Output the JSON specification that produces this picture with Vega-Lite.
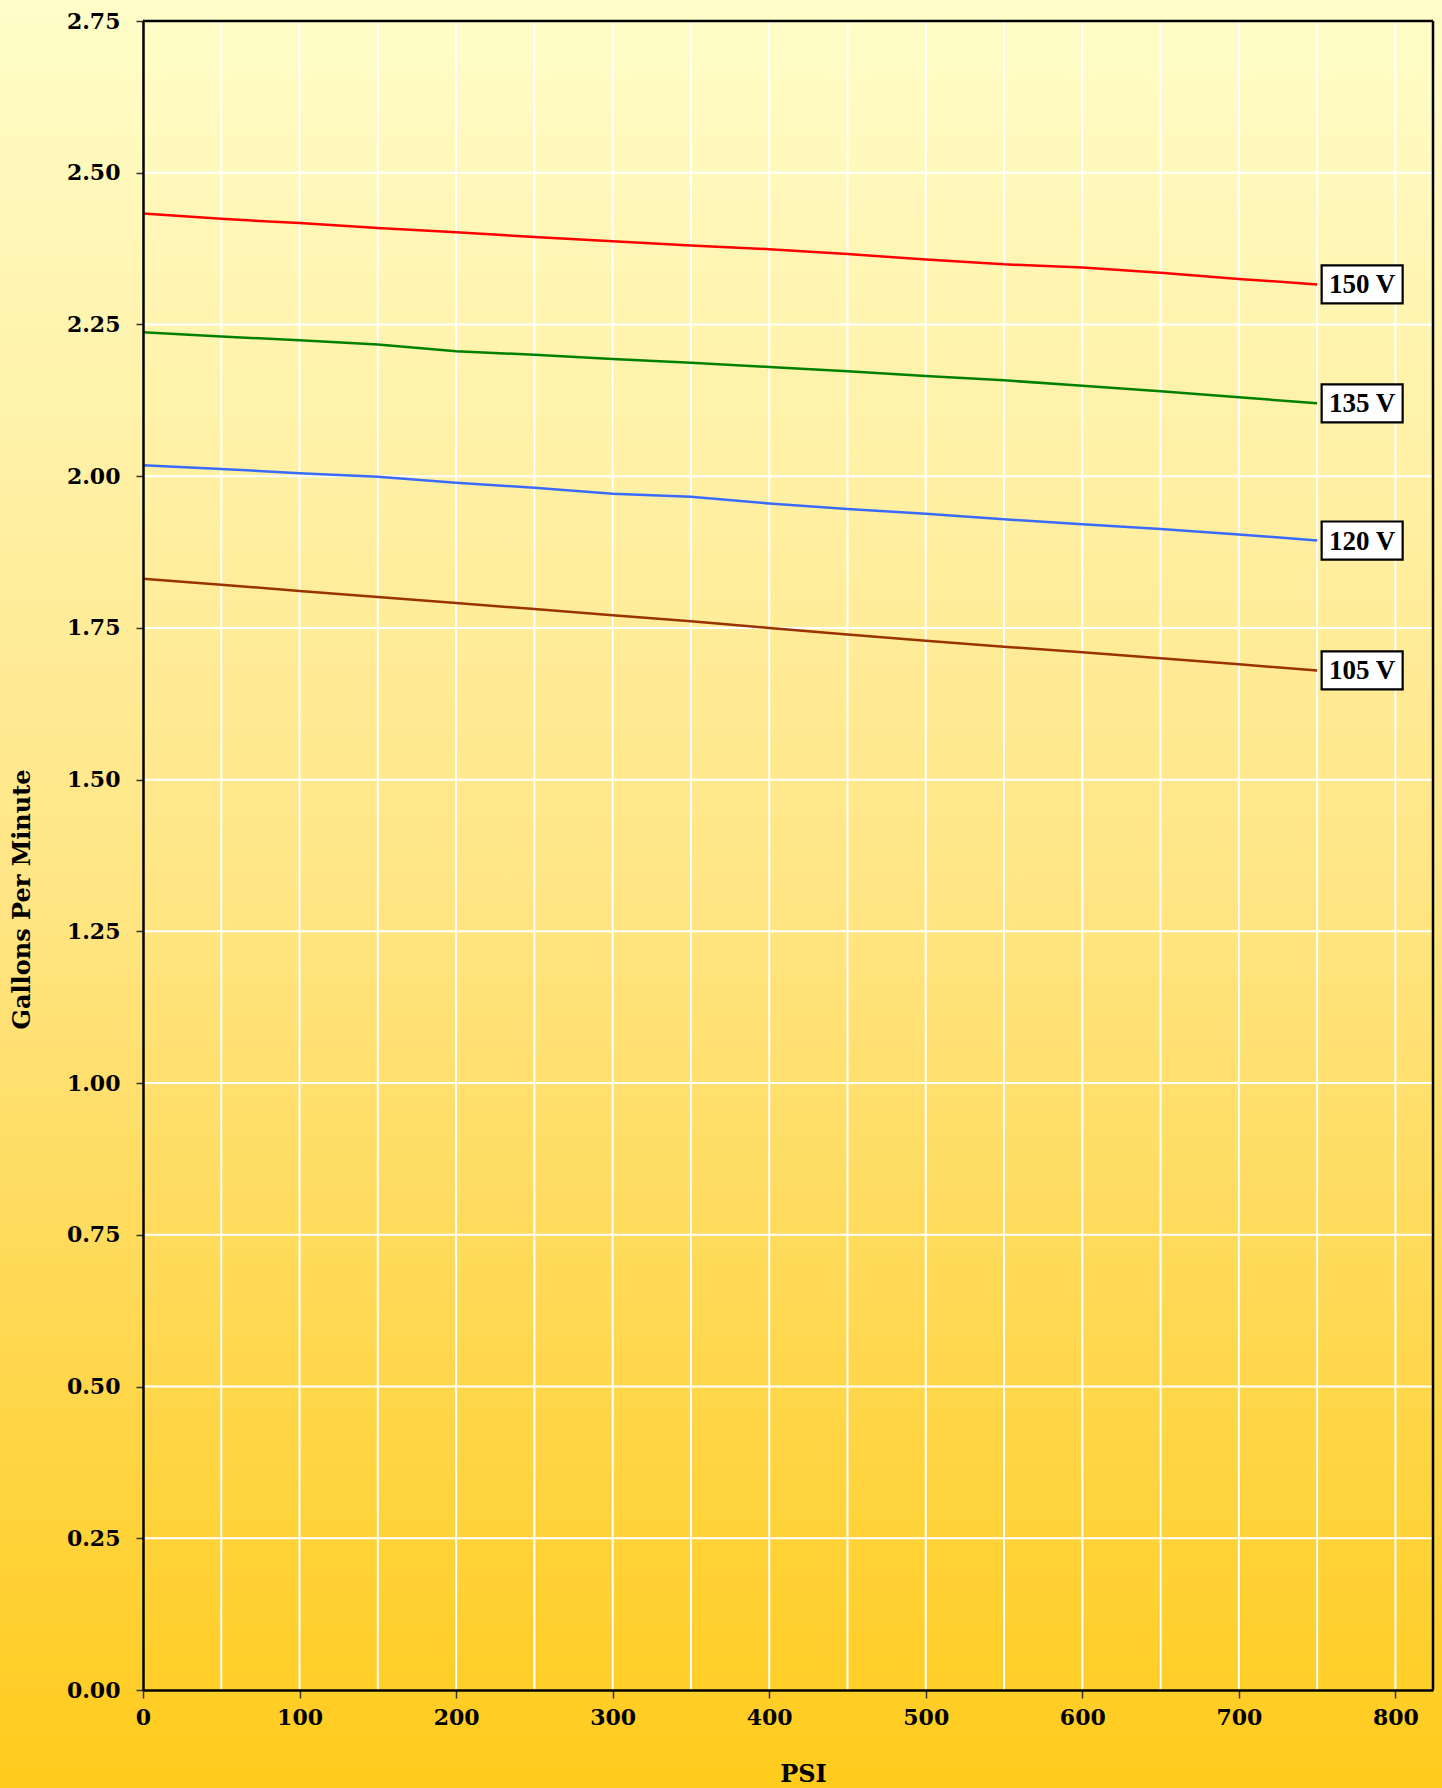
{
  "$schema": "https://vega.github.io/schema/vega-lite/v6.json",
  "autosize": {"type": "none"},
  "width": 1290,
  "height": 1669,
  "padding": {"left": 143, "top": 21, "right": 9, "bottom": 98},
  "background": "#FFE27A",
  "config": {"view": {"stroke": null}},
  "datasets": {
    "flow": [
      {"psi": 0, "gpm": 2.433, "voltage": "150 V"},
      {"psi": 50, "gpm": 2.424, "voltage": "150 V"},
      {"psi": 100, "gpm": 2.417, "voltage": "150 V"},
      {"psi": 150, "gpm": 2.409, "voltage": "150 V"},
      {"psi": 200, "gpm": 2.402, "voltage": "150 V"},
      {"psi": 250, "gpm": 2.394, "voltage": "150 V"},
      {"psi": 300, "gpm": 2.387, "voltage": "150 V"},
      {"psi": 350, "gpm": 2.380, "voltage": "150 V"},
      {"psi": 400, "gpm": 2.374, "voltage": "150 V"},
      {"psi": 450, "gpm": 2.366, "voltage": "150 V"},
      {"psi": 500, "gpm": 2.357, "voltage": "150 V"},
      {"psi": 550, "gpm": 2.349, "voltage": "150 V"},
      {"psi": 600, "gpm": 2.344, "voltage": "150 V"},
      {"psi": 650, "gpm": 2.335, "voltage": "150 V"},
      {"psi": 700, "gpm": 2.325, "voltage": "150 V"},
      {"psi": 750, "gpm": 2.316, "voltage": "150 V"},
      {"psi": 0, "gpm": 2.237, "voltage": "135 V"},
      {"psi": 50, "gpm": 2.230, "voltage": "135 V"},
      {"psi": 100, "gpm": 2.224, "voltage": "135 V"},
      {"psi": 150, "gpm": 2.217, "voltage": "135 V"},
      {"psi": 200, "gpm": 2.206, "voltage": "135 V"},
      {"psi": 250, "gpm": 2.200, "voltage": "135 V"},
      {"psi": 300, "gpm": 2.193, "voltage": "135 V"},
      {"psi": 350, "gpm": 2.187, "voltage": "135 V"},
      {"psi": 400, "gpm": 2.180, "voltage": "135 V"},
      {"psi": 450, "gpm": 2.173, "voltage": "135 V"},
      {"psi": 500, "gpm": 2.165, "voltage": "135 V"},
      {"psi": 550, "gpm": 2.158, "voltage": "135 V"},
      {"psi": 600, "gpm": 2.149, "voltage": "135 V"},
      {"psi": 650, "gpm": 2.140, "voltage": "135 V"},
      {"psi": 700, "gpm": 2.130, "voltage": "135 V"},
      {"psi": 750, "gpm": 2.120, "voltage": "135 V"},
      {"psi": 0, "gpm": 2.018, "voltage": "120 V"},
      {"psi": 50, "gpm": 2.012, "voltage": "120 V"},
      {"psi": 100, "gpm": 2.005, "voltage": "120 V"},
      {"psi": 150, "gpm": 1.999, "voltage": "120 V"},
      {"psi": 200, "gpm": 1.989, "voltage": "120 V"},
      {"psi": 250, "gpm": 1.981, "voltage": "120 V"},
      {"psi": 300, "gpm": 1.971, "voltage": "120 V"},
      {"psi": 350, "gpm": 1.966, "voltage": "120 V"},
      {"psi": 400, "gpm": 1.955, "voltage": "120 V"},
      {"psi": 450, "gpm": 1.946, "voltage": "120 V"},
      {"psi": 500, "gpm": 1.938, "voltage": "120 V"},
      {"psi": 550, "gpm": 1.929, "voltage": "120 V"},
      {"psi": 600, "gpm": 1.921, "voltage": "120 V"},
      {"psi": 650, "gpm": 1.913, "voltage": "120 V"},
      {"psi": 700, "gpm": 1.904, "voltage": "120 V"},
      {"psi": 750, "gpm": 1.894, "voltage": "120 V"},
      {"psi": 0, "gpm": 1.831, "voltage": "105 V"},
      {"psi": 50, "gpm": 1.821, "voltage": "105 V"},
      {"psi": 100, "gpm": 1.811, "voltage": "105 V"},
      {"psi": 150, "gpm": 1.801, "voltage": "105 V"},
      {"psi": 200, "gpm": 1.791, "voltage": "105 V"},
      {"psi": 250, "gpm": 1.781, "voltage": "105 V"},
      {"psi": 300, "gpm": 1.771, "voltage": "105 V"},
      {"psi": 350, "gpm": 1.761, "voltage": "105 V"},
      {"psi": 400, "gpm": 1.750, "voltage": "105 V"},
      {"psi": 450, "gpm": 1.739, "voltage": "105 V"},
      {"psi": 500, "gpm": 1.729, "voltage": "105 V"},
      {"psi": 550, "gpm": 1.719, "voltage": "105 V"},
      {"psi": 600, "gpm": 1.710, "voltage": "105 V"},
      {"psi": 650, "gpm": 1.700, "voltage": "105 V"},
      {"psi": 700, "gpm": 1.690, "voltage": "105 V"},
      {"psi": 750, "gpm": 1.680, "voltage": "105 V"}
    ],
    "xgrid": [
      {"psi": 50}, {"psi": 100}, {"psi": 150}, {"psi": 200}, {"psi": 250}, {"psi": 300},
      {"psi": 350}, {"psi": 400}, {"psi": 450}, {"psi": 500}, {"psi": 550}, {"psi": 600},
      {"psi": 650}, {"psi": 700}, {"psi": 750}, {"psi": 800}
    ],
    "ygrid": [
      {"gpm": 0.25}, {"gpm": 0.5}, {"gpm": 0.75}, {"gpm": 1.0}, {"gpm": 1.25},
      {"gpm": 1.5}, {"gpm": 1.75}, {"gpm": 2.0}, {"gpm": 2.25}, {"gpm": 2.5}
    ]
  },
  "layer": [
    {
      "data": {"values": [{}]},
      "mark": {
        "type": "rect",
        "clip": false,
        "fill": {
          "gradient": "linear", "x1": 0, "y1": 0, "x2": 0, "y2": 1,
          "stops": [
            {"offset": 0, "color": "#FFFDC9"},
            {"offset": 0.5, "color": "#FFE584"},
            {"offset": 1, "color": "#FFCB1C"}
          ]
        }
      },
      "encoding": {
        "x": {"datum": -95, "type": "quantitative", "scale": {"domain": [0, 824], "nice": false, "zero": false}},
        "x2": {"datum": 880},
        "y": {"datum": -0.165, "type": "quantitative", "scale": {"domain": [0, 2.75], "nice": false}},
        "y2": {"datum": 2.79}
      }
    },
    {
      "data": {"name": "xgrid"},
      "mark": {"type": "rule", "color": "white", "strokeWidth": 2},
      "encoding": {
        "x": {"field": "psi", "type": "quantitative", "scale": {"domain": [0, 824], "nice": false, "zero": false}}
      }
    },
    {
      "data": {"name": "ygrid"},
      "mark": {"type": "rule", "color": "white", "strokeWidth": 2},
      "encoding": {
        "y": {"field": "gpm", "type": "quantitative", "scale": {"domain": [0, 2.75], "nice": false}}
      }
    },
    {
      "data": {"name": "flow"},
      "mark": {"type": "line", "strokeWidth": 2.5},
      "encoding": {
        "x": {
          "field": "psi", "type": "quantitative",
          "scale": {"domain": [0, 824], "nice": false, "zero": false},
          "axis": {
            "title": "PSI",
            "values": [0, 100, 200, 300, 400, 500, 600, 700, 800],
            "format": "d",
            "grid": false,
            "zindex": 1,
            "domainColor": "black", "domainWidth": 2.5,
            "tickColor": "#333", "tickSize": 8, "tickWidth": 1.5,
            "labelFont": "DejaVu Serif", "labelFontWeight": "bold", "labelFontSize": 22, "labelColor": "black",
            "labelPadding": 9, "labelFlush": false, "labelOverlap": false,
            "titleFont": "DejaVu Serif", "titleFontWeight": "bold", "titleFontSize": 24, "titleColor": "black",
            "titleX": 660, "titleY": 84, "titleAlign": "center", "titleBaseline": "middle"
          }
        },
        "y": {
          "field": "gpm", "type": "quantitative",
          "scale": {"domain": [0, 2.75], "nice": false},
          "axis": {
            "title": "Gallons Per Minute",
            "values": [0, 0.25, 0.5, 0.75, 1.0, 1.25, 1.5, 1.75, 2.0, 2.25, 2.5, 2.75],
            "format": ".2f",
            "grid": false,
            "zindex": 1,
            "domainColor": "black", "domainWidth": 2.5,
            "tickColor": "#333", "tickSize": 7, "tickWidth": 1.5,
            "labelFont": "DejaVu Serif", "labelFontWeight": "bold", "labelFontSize": 22, "labelColor": "black",
            "labelPadding": 16, "labelFlush": false, "labelOverlap": false,
            "titleFont": "DejaVu Serif", "titleFontWeight": "bold", "titleFontSize": 24, "titleColor": "black",
            "titleAngle": -90, "titleX": -121, "titleY": 878, "titleAlign": "center", "titleBaseline": "middle"
          }
        },
        "color": {
          "field": "voltage", "type": "nominal",
          "scale": {"domain": ["150 V", "135 V", "120 V", "105 V"], "range": ["#FF0000", "#008000", "#3A6BFF", "#993300"]},
          "legend": null
        }
      }
    },
    {
      "data": {"values": [{}]},
      "mark": {"type": "rule", "color": "black", "strokeWidth": 2.5},
      "encoding": {"y": {"datum": 2.75, "type": "quantitative", "scale": {"domain": [0, 2.75], "nice": false}}}
    },
    {
      "data": {"values": [{}]},
      "mark": {"type": "rule", "color": "black", "strokeWidth": 2.5},
      "encoding": {"x": {"datum": 824, "type": "quantitative", "scale": {"domain": [0, 824], "nice": false, "zero": false}}}
    },
    {
      "data": {"name": "flow"},
      "transform": [{"filter": "datum.psi === 750"}],
      "mark": {
        "type": "point",
        "shape": "M-1,-0.47H1V0.47H-1Z",
        "size": 6561,
        "filled": true,
        "fill": "white",
        "stroke": "black",
        "strokeWidth": 2.2,
        "opacity": 1,
        "xOffset": 45
      },
      "encoding": {
        "x": {"field": "psi", "type": "quantitative", "scale": {"domain": [0, 824], "nice": false, "zero": false}},
        "y": {"field": "gpm", "type": "quantitative", "scale": {"domain": [0, 2.75], "nice": false}}
      }
    },
    {
      "data": {"name": "flow"},
      "transform": [{"filter": "datum.psi === 750"}],
      "mark": {
        "type": "text",
        "font": "Liberation Serif",
        "fontWeight": "bold",
        "fontSize": 27,
        "xOffset": 45,
        "yOffset": 1,
        "align": "center",
        "baseline": "middle",
        "color": "black"
      },
      "encoding": {
        "x": {"field": "psi", "type": "quantitative", "scale": {"domain": [0, 824], "nice": false, "zero": false}},
        "y": {"field": "gpm", "type": "quantitative", "scale": {"domain": [0, 2.75], "nice": false}},
        "text": {"field": "voltage", "type": "nominal"}
      }
    }
  ]
}
